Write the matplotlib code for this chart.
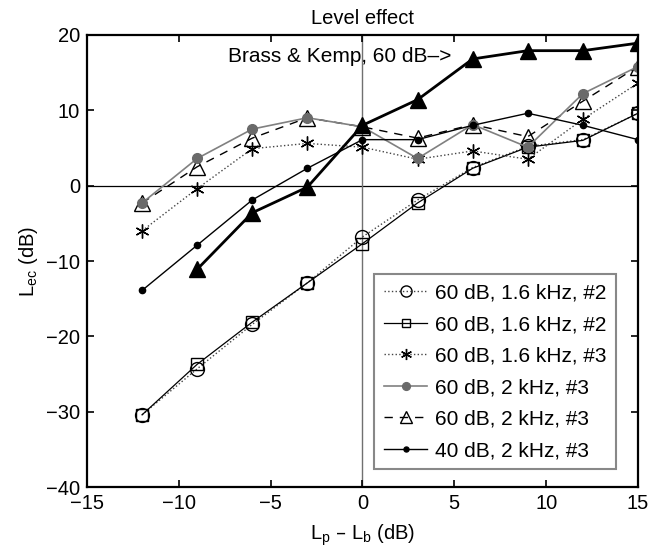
import matplotlib
matplotlib.use("Agg")
import matplotlib.pyplot as plt

plt.rcParams['font.family'] = ['Liberation Sans', 'DejaVu Sans']
plt.rcParams['font.size'] = 14.5
plt.rcParams['mathtext.default'] = 'regular'

# data
x = [-12, -9, -6, -3, 0, 3, 6, 9, 12, 15]
circ_16_2 = [-30.4, -24.3, -18.4, -12.9, -6.8, -1.9, 2.4, 5.2, 6.1, 9.6]
sq_16_2 = [-30.4, -23.7, -18.1, -12.9, -7.7, -2.3, 2.3, 5.1, 6.0, 9.6]
star_16_3 = [-6.0, -0.4, 4.9, 5.6, 5.1, 3.5, 4.6, 3.5, 8.8, 13.6]
grey_2_3 = [-2.3, 3.6, 7.5, 9.0, 7.8, 3.6, 8.1, 5.1, 12.2, 15.8]
tri_2_3 = [-2.3, 2.5, 6.3, 9.0, 7.8, 6.3, 8.1, 6.5, 11.2, 15.8]
dot_40_2_3 = [-13.9, -7.9, -1.9, 2.3, 6.1, 6.1, 8.0, 9.6, 8.0, 6.1]
x_bk = [-9, -6, -3, 0, 3, 6, 9, 12, 15]
brass_kemp = [-11.1, -3.6, -0.2, 8.0, 11.4, 16.8, 17.9, 17.9, 18.9]

labels = ['60 dB, 1.6 kHz, #2', '60 dB, 1.6 kHz, #2', '60 dB, 1.6 kHz, #3',
          '60 dB, 2 kHz, #3', '60 dB, 2 kHz, #3', '40 dB, 2 kHz, #3']

fig = plt.figure(figsize=(6.49, 5.53), dpi=100)
ax = fig.add_axes([0.134, 0.119, 0.849, 0.818])

ax.axhline(0, color='black', lw=0.9, zorder=1)
ax.axvline(0, color='#707070', lw=1.0, zorder=1)

h1, = ax.plot(x, circ_16_2, ':', color='#444444', lw=1.0, marker='o', ms=10,
              mfc='none', mec='black', mew=1.0)
h2, = ax.plot(x, sq_16_2, '-', color='black', lw=0.9, marker='s', ms=8,
              mfc='none', mec='black', mew=1.0)
h3, = ax.plot(x, star_16_3, ':', color='#444444', lw=1.0, marker=(6, 2, 0),
              ms=10, mec='black', mew=1.0)
h5, = ax.plot(x, tri_2_3, '--', color='black', lw=1.0, dashes=(6, 5),
              marker='^', ms=11, mfc='none', mec='black', mew=1.0)
h4, = ax.plot(x, grey_2_3, '-', color='#808080', lw=1.2, marker='o', ms=7,
              mfc='#6a6a6a', mec='#6a6a6a')
h6, = ax.plot(x, dot_40_2_3, '-', color='black', lw=1.0, marker='o', ms=4.5,
              mfc='black', mec='black')
ax.plot(x_bk, brass_kemp, '-', color='black', lw=2.0, marker='^', ms=12,
        mfc='black', mec='black', zorder=5)

ax.text(-7.3, 17.1, 'Brass & Kemp, 60 dB\u2013>', va='center', fontsize=15)

ax.set_xlim(-15, 15)
ax.set_ylim(-40, 20)
ax.set_xticks([-15, -10, -5, 0, 5, 10, 15])
ax.set_yticks([-40, -30, -20, -10, 0, 10, 20])
ax.tick_params(direction='in', length=5, width=1.2, top=True, right=True,
               pad=5)
for s in ax.spines.values():
    s.set_linewidth(1.6)

ax.set_title('Level effect', fontsize=14.5, pad=8)
ax.set_xlabel('L$_p$ \u2013 L$_b$ (dB)', labelpad=7)
ax.set_ylabel('L$_{ec}$ (dB)', labelpad=4)

leg = ax.legend([h1, h2, h3, h4, h5, h6], labels, loc='lower right',
                bbox_to_anchor=(0.967, 0.03), fontsize=15, handlelength=2.1,
                handletextpad=0.35, labelspacing=0.6, borderpad=0.45,
                borderaxespad=0.2, markerscale=0.8, fancybox=False,
                edgecolor='#888888', framealpha=1)
leg.get_frame().set_linewidth(1.5)

fig.savefig('out.png', dpi=100)
